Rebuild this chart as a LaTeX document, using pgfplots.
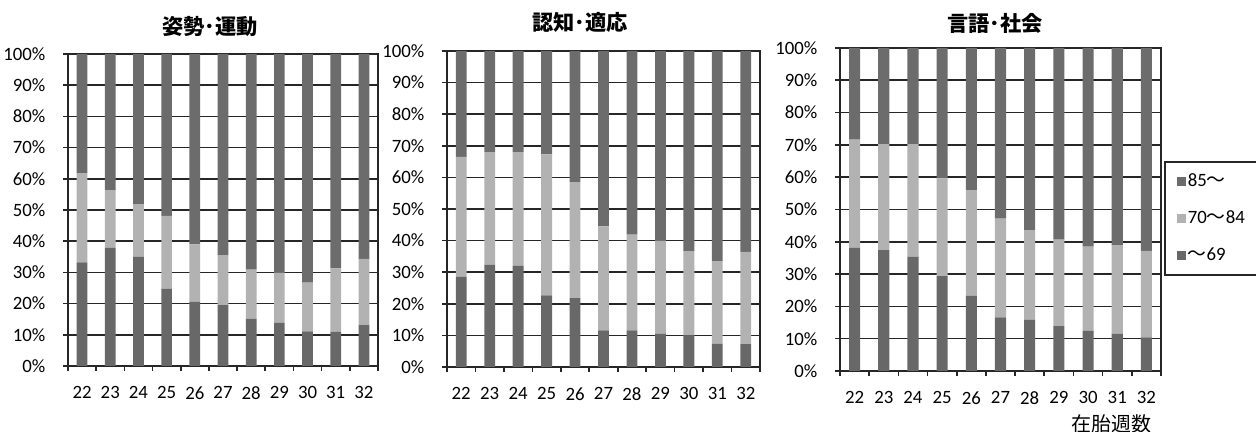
\documentclass[border=0pt]{standalone}
\usepackage{fontspec}
\setmainfont{Carlito}
\newfontfamily\cjk{Noto Sans CJK JP}
\usepackage{pgfplots}
\pgfplotsset{compat=1.18}
\usepackage{pgfplotstable}

\definecolor{gridc}{HTML}{262626}
\definecolor{lowc}{HTML}{686868}
\definecolor{midc}{HTML}{B2B2B2}
\definecolor{highc}{HTML}{6C6C6C}

% share of children per score band (%), by gestational week
% columns: week, ~69, 70~84, 85~
\pgfplotstableread{
wk  low   mid   high
22  33.2  28.6  38.2
23  37.9  18.5  43.6
24  35.0  16.9  48.1
25  24.8  23.3  51.9
26  20.6  18.4  61.0
27  19.5  16.0  64.5
28  15.2  15.7  69.1
29  13.8  16.1  70.1
30  11.1  15.6  73.3
31  10.9  20.4  68.7
32  13.1  21.2  65.7
}\motortab

\pgfplotstableread{
wk  low   mid   high
22  28.5  38.0  33.5
23  32.4  35.6  32.0
24  32.0  36.0  32.0
25  22.7  44.6  32.7
26  21.8  36.7  41.5
27  11.6  32.9  55.5
28  11.6  30.3  58.1
29  10.5  29.4  60.1
30  10.0  26.7  63.3
31   7.4  26.1  66.5
32   7.2  29.2  63.6
}\cogtab

\pgfplotstableread{
wk  low   mid   high
22  38.1  33.5  28.4
23  37.4  32.8  29.8
24  35.4  34.8  29.8
25  29.4  30.2  40.4
26  23.3  32.7  44.0
27  16.6  30.6  52.8
28  15.8  27.8  56.4
29  13.9  26.8  59.3
30  12.4  26.1  61.5
31  11.6  27.4  61.0
32  10.4  26.8  62.8
}\langtab

\pgfplotsset{
  devchart/.style={
    scale only axis,
    ybar stacked, bar width=0.38,
    xmin=21.5, xmax=32.5, ymin=0, ymax=100,
    xtick={22,...,32},
    minor xtick={21.5,22.5,...,32.5},
    major x tick style={draw=none},
    ytick={0,10,...,100},
    yticklabel={\pgfmathprintnumber{\tick}\%},
    /pgf/number format/assume math mode=true,
    tick align=outside, tick pos=left,
    major tick length=2.6pt, minor tick length=2.6pt,
    ymajorgrids,
    grid style={draw=gridc, line width=0.8pt},
    axis line style={draw=gridc, line width=0.8pt},
    tick style={draw=gridc, line width=0.8pt},
    ticklabel style={font=\fontsize{9.4}{10}\selectfont},
    xticklabel style={anchor=center, yshift=-10.8pt},
    yticklabel style={anchor=east, inner sep=0pt, xshift=-8.5pt},
    title style={font=\cjk\bfseries\fontsize{10.6}{12}\selectfont, anchor=center, yshift=-6pt},
  },
  lowbar/.style={fill=lowc, draw=none},
  midbar/.style={fill=midc, draw=none},
  highbar/.style={fill=highc, draw=none},
}

\begin{document}
\begin{tikzpicture}
\useasboundingbox (0pt,0pt) rectangle (628pt,216pt);

% posture and movement
\begin{axis}[devchart,
  at={(34pt,33pt)}, anchor=south west, width=155pt, height=156pt,
  title={姿勢･運動}, title style={at={(0.458,1.087)}}]
  \addplot[lowbar]  table[x=wk, y=low]  {\motortab};
  \addplot[midbar]  table[x=wk, y=mid]  {\motortab};
  \addplot[highbar] table[x=wk, y=high] {\motortab};
\end{axis}

% cognition and adaptation
\begin{axis}[devchart,
  at={(223.5pt,32.5pt)}, anchor=south west, width=156.5pt, height=158pt,
  title={認知･適応}, title style={at={(0.425,1.092)}}]
  \addplot[lowbar]  table[x=wk, y=low]  {\cogtab};
  \addplot[midbar]  table[x=wk, y=mid]  {\cogtab};
  \addplot[highbar] table[x=wk, y=high] {\cogtab};
\end{axis}

% language and social
\begin{axis}[devchart,
  at={(420pt,30.5pt)}, anchor=south west, width=160.5pt, height=161.5pt,
  title={言語･社会}, title style={at={(0.483,1.077)}},
  xlabel={在胎週数},
  xlabel style={font=\cjk\fontsize{10}{12}\selectfont, at={(0.847,-0.163)}, anchor=center},
  reverse legend, legend cell align=left,
  legend style={at={(1.009,0.650)}, anchor=north west, draw=gridc,
    line width=0.8pt, fill=white, font=\fontsize{9.4}{10}\selectfont,
    inner xsep=6pt, inner ysep=5pt, row sep=8.5pt,
    nodes={inner sep=1pt}},
  legend image code/.code={\path[#1] (0pt,-2.3pt) rectangle (4.6pt,2.3pt);}]
  \addplot[lowbar]  table[x=wk, y=low]  {\langtab};
  \addplot[midbar]  table[x=wk, y=mid]  {\langtab};
  \addplot[highbar] table[x=wk, y=high] {\langtab};
  \legend{{{\cjk ～}69}, {70{\cjk ～}84\hspace*{40pt}}, {85{\cjk ～}}}
\end{axis}
\end{tikzpicture}
\end{document}
